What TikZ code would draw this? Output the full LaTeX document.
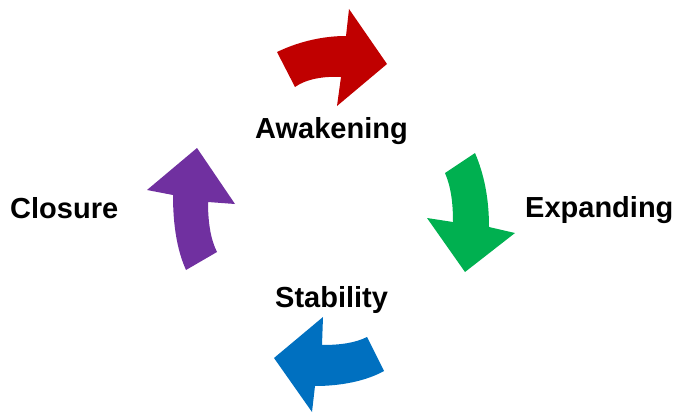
\documentclass[tikz,border=0pt]{standalone}
\usepackage{fontspec}
\setmainfont{Liberation Sans}
\usepackage{xcolor}
\usetikzlibrary{positioning}
\definecolor{arrowred}{HTML}{C00000}
\definecolor{arrowgreen}{HTML}{00B050}
\definecolor{arrowblue}{HTML}{0070C0}
\definecolor{arrowpurple}{HTML}{7030A0}

\begin{document}
\begin{tikzpicture}[x=1pt, y=-1pt,
                    phase_label/.style={anchor=base west, inner sep=0pt, font=\fontsize{29}{31}\selectfont\bfseries},
                    cycle_arrow/.style={draw=none},
                    ]

    \useasboundingbox (0,0) rectangle (674,412);

    % Phase labels
    \node[phase_label] (awakening) at (255,138) {Awakening};
    \node[phase_label] (expanding) at (525,217) {Expanding};
    \node[phase_label] (stability) at (275,307) {Stability};
    \node[phase_label] (closure) at (10,218) {Closure};

    % Awakening -> Expanding
    \fill[cycle_arrow, arrowred] (277,52) .. controls (300,41) and (324,36) .. (346,36) -- (349,9) -- (387,64) -- (337,106) -- (341,77) .. controls (324,76) and (306,79) .. (295,87) -- cycle;

    % Expanding -> Stability
    \fill[cycle_arrow, arrowgreen] (445,173) -- (475,153) .. controls (484,174) and (489,198) .. (489,227) -- (515,233) -- (465,272) -- (427,218) -- (453,222) .. controls (453,203) and (451,187) .. (445,173) -- cycle;

    % Stability -> Closure
    \fill[cycle_arrow, arrowblue] (367,337) .. controls (355,343) and (340,345) .. (322,345) -- (323,317) -- (274,358) -- (312,412) -- (315,386) .. controls (341,386) and (366,381) .. (384,371) -- cycle;

    % Closure -> Awakening
    \fill[cycle_arrow, arrowpurple] (186,270) .. controls (177,250) and (173,225) .. (173,195) -- (147,190) -- (197,148) -- (235,204) -- (208,202) .. controls (208,224) and (211,240) .. (217,252) -- cycle;

\end{tikzpicture}
\end{document}
